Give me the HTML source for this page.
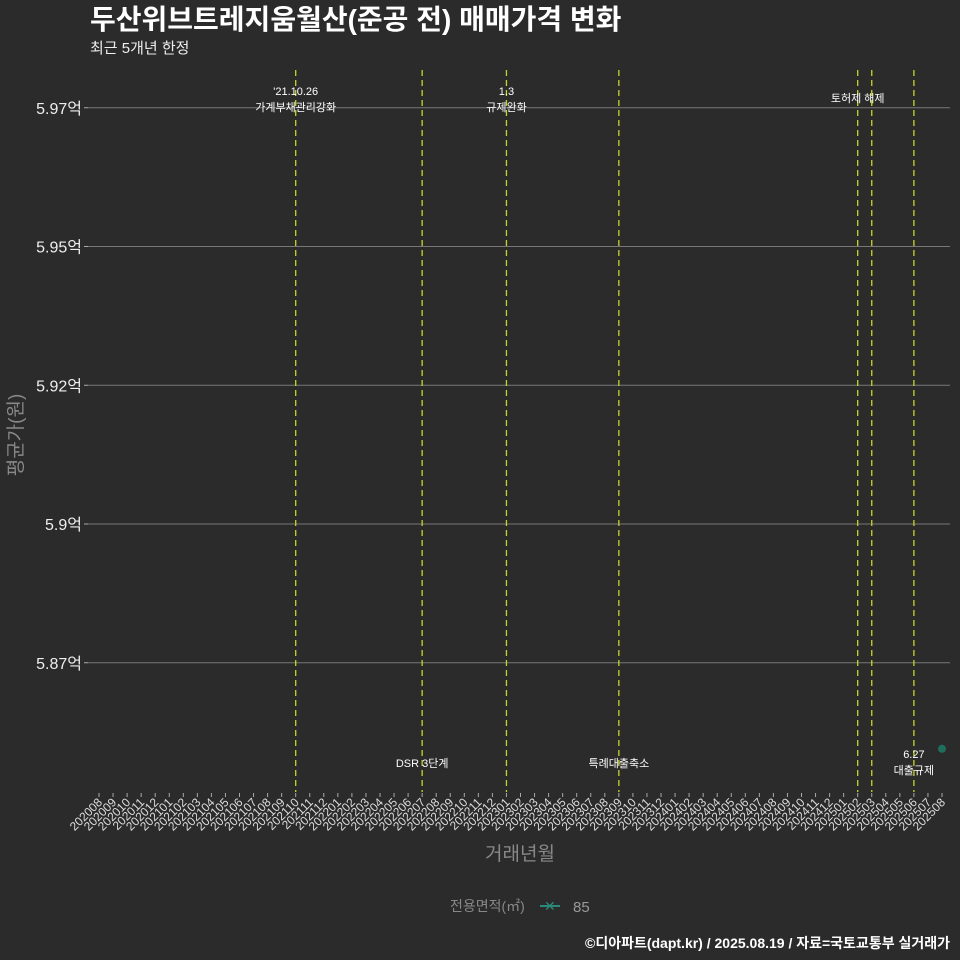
<!DOCTYPE html>
<html><head><meta charset="utf-8"><style>
html,body{margin:0;background:#2b2b2b;overflow:hidden;width:960px;height:960px;}
svg{display:block;}
svg text{font-family:"Liberation Sans","Noto Sans CJK KR",sans-serif;}
</style></head><body>
<svg id="c" width="960" height="960" xmlns="http://www.w3.org/2000/svg">
<rect width="960" height="960" fill="#2b2b2b"/>
<text x="90" y="29" font-size="28" font-weight="bold" fill="#fff">두산위브트레지움월산(준공 전) 매매가격 변화</text>
<text x="90" y="53" font-size="15" fill="#eee">최근 5개년 한정</text>
<text x="520" y="860" font-size="19" fill="#888" text-anchor="middle">거래년월</text>
<text x="22" y="435" font-size="19" fill="#888" text-anchor="middle" transform="rotate(-90 22 435)">평균가(원)</text>
<g>
<text x="450" y="911" font-size="14" fill="#888">전용면적(㎡)</text>
<line x1="540" y1="906" x2="560" y2="906" stroke="#2a8a7a" stroke-width="2"/>
<text x="544" y="911" font-size="14" fill="#2a8a7a">✕</text>
<text x="573" y="912" font-size="15" fill="#999">85</text>
</g>
<text x="950" y="948" font-size="14" font-weight="bold" fill="#fff" text-anchor="end">©디아파트(dapt.kr) / 2025.08.19 / 자료=국토교통부 실거래가</text>
<g id="grid"></g><g id="xt"></g><g id="ev"></g><g id="pts"></g>
</svg>
<script>
const yTicks=[5.875,5.9,5.925,5.95,5.975];
const yLabels=["5.87억","5.9억","5.92억","5.95억","5.97억"];
const months=[];
for(let y=2020,m=8;months.length<61;){months.push(""+y+String(m).padStart(2,"0"));m++;if(m>12){m=1;y++;}}
const eventMonths=["202110","202207","202301","202309","202502","202503","202506"];
const eventTop=[["'21.10.26","가계부채관리강화"],null,["1.3","규제완화"],null,["토허제 해제"],null,null];
const eventBottom=[null,["DSR 3단계"],null,["특례대출축소"],null,null,["6.27","대출규제"]];
const seriesMonths=["202508"];
const seriesValues=[5.8595];
const NS="http://www.w3.org/2000/svg";
function X(mo){return 99+months.indexOf(mo)*14.05;}
function Y(v){return 524-(v-5.9)/0.025*138.75;}
function mk(t,a,p){const e=document.createElementNS(NS,t);for(const k in a)e.setAttribute(k,a[k]);p.appendChild(e);return e;}
const g=document.getElementById('grid');
yTicks.forEach((v,i)=>{
 const l=mk('line',{x1:88,x2:950,y1:Y(v),y2:Y(v),stroke:'#777','stroke-width':1},g);
 
 
 mk('line',{x1:84,x2:88,y1:Y(v),y2:Y(v),stroke:'#aaa'},g);
 const t=mk('text',{x:82,y:Y(v)+6,'font-size':16,fill:'#eee','text-anchor':'end'},g);t.textContent=yLabels[i];
 
 
});
const xt=document.getElementById('xt');
months.forEach(mo=>{
 const x=X(mo);
 mk('line',{x1:x,x2:x,y1:793,y2:797,stroke:'#aaa'},xt);
 const t=mk('text',{x:x+4,y:803,'font-size':12,fill:'#ddd','text-anchor':'end',transform:`rotate(-45 ${x+4} 803)`},xt);t.textContent=mo;
 
 
});
const ev=document.getElementById('ev');
eventMonths.forEach((mo,i)=>{
 const x=X(mo);
 const l=mk('line',{x1:x,x2:x,y1:70,y2:792,stroke:'#c8d42a','stroke-width':1.3,'stroke-dasharray':'6,4'},ev);
 
 
 const tp=eventTop[i];
 if(tp){tp.forEach((s,j)=>{const t=mk('text',{x:x,y:(tp.length==1?102:95)+j*16,'font-size':11,fill:'#fff','text-anchor':'middle'},ev);t.textContent=s;
  
  });}
 const bt=eventBottom[i];
 if(bt){bt.forEach((s,j)=>{const t=mk('text',{x:x,y:(bt.length==1?767:758)+j*16,'font-size':11,fill:'#fff','text-anchor':'middle'},ev);t.textContent=s;
  
  });}
});
const pts=document.getElementById('pts');
seriesMonths.forEach((mo,i)=>{
 const c=mk('circle',{cx:X(mo),cy:Y(seriesValues[i]),r:4,fill:'#1f6e5c'},pts);
 
 
});
</script>
</body></html>
